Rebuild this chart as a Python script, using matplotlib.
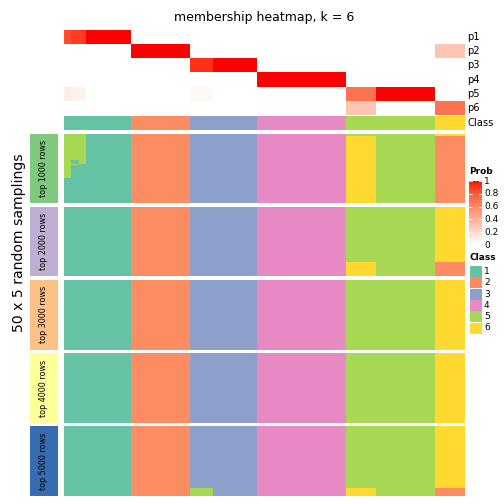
import numpy as np
import matplotlib
matplotlib.use("Agg")
import matplotlib.pyplot as plt
from matplotlib.colors import ListedColormap

# ---------------- data ----------------
prob_labels = ["p1", "p2", "p3", "p4", "p5", "p6"]
p1 = [0.85, 0.9, 0.9] + [1.0] * 6 + [0] * 45
p2 = [0] * 9 + [1.0] * 8 + [0] * 33 + [0.3] * 4
p3 = [0] * 17 + [0.93] * 3 + [1.0] * 6 + [0] * 28
p4 = [0] * 26 + [1.0] * 12 + [0] * 16
p5 = [0.1, 0.07, 0.07] + [0] * 14 + [0.03] * 3 + [0] * 18 + [0.7] * 4 + [1.0] * 8 + [0] * 4
p6 = [0] * 38 + [0.3] * 4 + [0] * 8 + [0.7] * 4
sample_class = [1] * 9 + [2] * 8 + [3] * 9 + [4] * 12 + [5] * 12 + [6] * 4

class_names = ["1", "2", "3", "4", "5", "6"]
class_colors = ["#66C2A5", "#FC8D62", "#8DA0CB", "#E78AC3", "#A6D854", "#FFD92F"]

panel_labels = ["top 1000 rows", "top 2000 rows", "top 3000 rows", "top 4000 rows", "top 5000 rows"]
panel_colors = ["#7FC97F", "#BEAED4", "#FDC086", "#FFFF99", "#386CB0"]
n_samplings = 50

# (panel, first row, last row, first col, last col, class)
overrides = [
    (0, 0, 1, 38, 41, 5), (0, 0, 1, 50, 53, 6),
    (0, 2, 49, 38, 41, 6), (0, 2, 49, 50, 53, 2),
    (0, 0, 31, 0, 0, 5), (0, 0, 18, 1, 1, 5), (0, 22, 22, 1, 1, 5),
    (0, 0, 21, 2, 2, 5),
    (1, 40, 49, 38, 41, 6), (1, 40, 49, 50, 53, 2),
    (4, 44, 49, 17, 19, 5), (4, 44, 49, 38, 41, 6), (4, 44, 49, 50, 53, 2),
]

# ---------------- colour ramp white -> red in LAB ----------------
def _to_lin(c):
    c = np.asarray(c, float)
    return np.where(c <= 0.04045, c / 12.92, ((c + 0.055) / 1.055) ** 2.4)

def _from_lin(c):
    c = np.clip(c, 0, 1)
    return np.where(c <= 0.0031308, 12.92 * c, 1.055 * c ** (1 / 2.4) - 0.055)

M = np.array([[0.4124, 0.3576, 0.1805], [0.2126, 0.7152, 0.0722], [0.0193, 0.1192, 0.9505]])
WP = M @ np.ones(3)

def _f(t):
    d = 6 / 29
    return np.where(t > d ** 3, np.cbrt(t), t / (3 * d * d) + 4 / 29)

def _finv(t):
    d = 6 / 29
    return np.where(t > d, t ** 3, 3 * d * d * (t - 4 / 29))

def rgb2lab(rgb):
    xyz = M @ _to_lin(rgb) / WP
    fx, fy, fz = _f(xyz)
    return np.array([116 * fy - 16, 500 * (fx - fy), 200 * (fy - fz)])

def lab2rgb(lab):
    L, a, b = lab
    fy = (L + 16) / 116
    xyz = np.array([_finv(fy + a / 500), _finv(fy), _finv(fy - b / 200)]) * WP
    return np.clip(_from_lin(np.linalg.solve(M, xyz)), 0, 1)

lw, lr = rgb2lab([1, 1, 1]), rgb2lab([1, 0, 0])
cols = [lab2rgb(lw + (lr - lw) * t) for t in np.linspace(0, 1, 256)]
cols[0] = np.array([1.0, 1.0, 1.0])
ramp = ListedColormap(cols)
class_cmap = ListedColormap(class_colors)

# ---------------- figure ----------------
W = H = 504
fig = plt.figure(figsize=(W / 72, H / 72), dpi=72)

def ax_px(x0, y0, x1, y1):
    a = fig.add_axes([x0 / W, 1 - y1 / H, (x1 - x0) / W, (y1 - y0) / H])
    a.set_axis_off()
    return a

HX0, HX1 = 64, 465
n = len(sample_class)

# top probability heatmap
prob = np.array([p1, p2, p3, p4, p5, p6])
ax = ax_px(HX0, 30, HX1, 115)
ax.imshow(prob, cmap=ramp, vmin=0, vmax=1, aspect="auto", interpolation="nearest")
row_h = (115 - 30) / 6
for i, lab in enumerate(prob_labels):
    fig.text(467 / W, 1 - (30 + row_h * (i + 0.5)) / H, lab, fontsize=10, va="center", ha="left")

ax = ax_px(HX0, 116, HX1, 130)
ax.imshow(np.array([sample_class]) - 1, cmap=class_cmap, vmin=-0.5, vmax=5.5, aspect="auto", interpolation="nearest")
fig.text(467 / W, 1 - 123 / H, "Class", fontsize=10, va="center", ha="left")

fig.text((HX0 + HX1) / 2 / W, 1 - 18 / H, "membership heatmap, k = 6", fontsize=12.5, ha="center", va="center")

# body panels
top, bottom, gap = 133.5, 496, 3.6
ph = (bottom - top - 4 * gap) / 5
for p in range(5):
    mat = np.tile(np.array(sample_class), (n_samplings, 1))
    for (pp, r0, r1, c0, c1, cl) in overrides:
        if pp == p:
            mat[r0:r1 + 1, c0:c1 + 1] = cl
    y0 = top + p * (ph + gap)
    ax = ax_px(HX0, y0, HX1, y0 + ph)
    ax.imshow(mat - 1, cmap=class_cmap, vmin=-0.5, vmax=5.5, aspect="auto", interpolation="nearest")
    la = ax_px(30, y0, 58, y0 + ph)
    la.add_patch(plt.Rectangle((0, 0), 1, 1, color=panel_colors[p], transform=la.transAxes))
    fig.text(44 / W, 1 - (y0 + ph / 2) / H, panel_labels[p], fontsize=8, rotation=90,
             ha="center", va="center")

fig.text(19 / W, 1 - 243 / H, "50 x 5 random samplings", fontsize=14, rotation=90,
         ha="center", va="center")

# Prob legend
fig.text(469 / W, 1 - 172 / H, "Prob", fontsize=9, fontweight="bold", ha="left", va="center")
cb_y0, cb_y1 = 181, 245
cax = ax_px(469, cb_y0, 482, cb_y1)
cax.imshow(np.linspace(1, 0, 200)[:, None], cmap=ramp, vmin=0, vmax=1, aspect="auto",
           extent=[0, 1, 0, 1])
cax.set_xlim(0, 1)
cax.set_ylim(0, 1)
for t in np.linspace(0, 1, 6):
    cax.plot([0, 0.2], [t, t], color="white", lw=0.8)
    cax.plot([0.8, 1], [t, t], color="white", lw=0.8)
    yy = cb_y1 - t * (cb_y1 - cb_y0)
    lab = "0" if t == 0 else ("1" if t == 1 else f"{t:.1f}")
    fig.text(484 / W, 1 - yy / H, lab, fontsize=9, ha="left", va="center")

# Class legend
fig.text(469 / W, 1 - 258 / H, "Class", fontsize=9, fontweight="bold", ha="left", va="center")
for i, (nm, col) in enumerate(zip(class_names, class_colors)):
    yc = 271.5 + i * 11.3
    la = ax_px(470, yc - 5.5, 482, yc + 5.5)
    la.add_patch(plt.Rectangle((0, 0), 1, 1, color=col, transform=la.transAxes))
    fig.text(484 / W, 1 - yc / H, nm, fontsize=9, ha="left", va="center")

fig.savefig("out.png", dpi=72)
